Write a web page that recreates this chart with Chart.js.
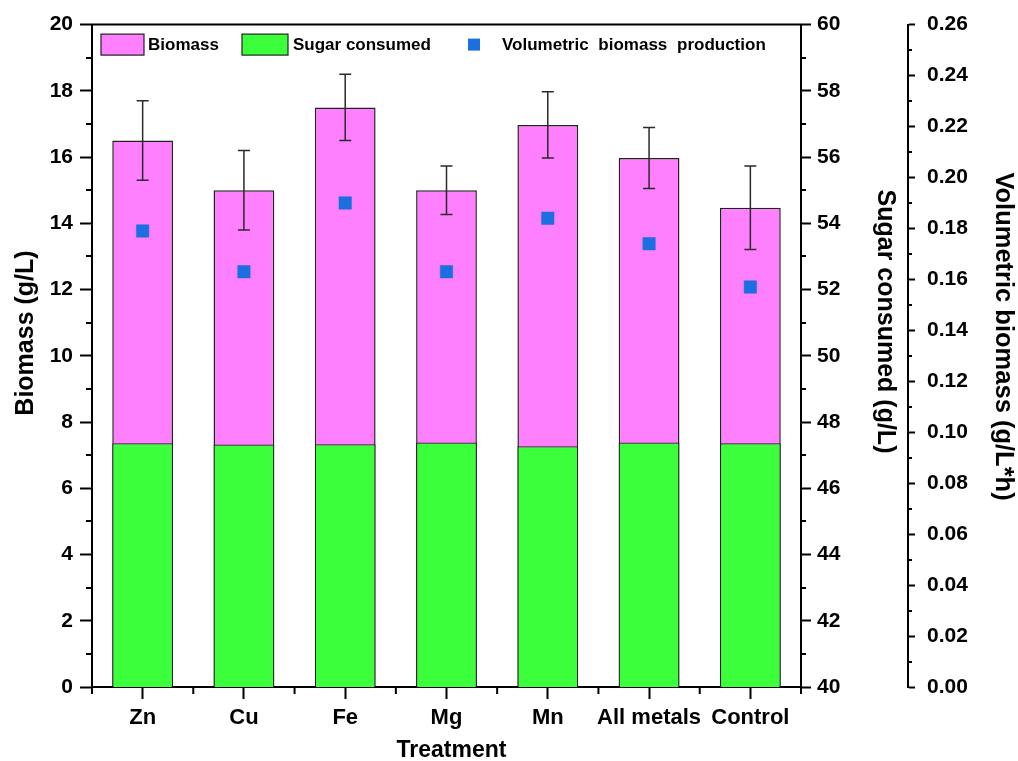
<!DOCTYPE html>
<html>
<head>
<meta charset="utf-8">
<script src="https://cdn.jsdelivr.net/npm/chart.js@4.4.1/dist/chart.umd.min.js"></script>
<style>
  html, body { margin: 0; padding: 0; background: #ffffff; }
  #chart { display: block; }
</style>
</head>
<body>
<canvas id="chart" width="1018" height="761"></canvas>
<script>
// Treatments on the category axis
const categories = ['Zn', 'Cu', 'Fe', 'Mg', 'Mn', 'All metals', 'Control'];

// Biomass (g/L) with standard deviation
const biomass = [16.5, 15.0, 17.5, 15.0, 16.97, 15.97, 14.47];
const biomassErr = [1.2, 1.2, 1.0, 0.73, 1.0, 0.92, 1.26];

// Sugar consumed (g/L)
const sugarConsumed = [47.36, 47.32, 47.33, 47.38, 47.27, 47.38, 47.36];

// Volumetric biomass production (g/L*h)
const volumetric = [0.179, 0.163, 0.190, 0.163, 0.184, 0.174, 0.157];

// Axis titles
const titleBiomass = 'Biomass (g/L)';
const titleSugar = 'Sugar consumed (g/L)';
const titleVolumetric = 'Volumetric biomass (g/L*h)';
const titleTreatment = 'Treatment';

const PINK = '#ff80ff';
const GREEN = '#3cff3c';
const BLUE = '#1c6fe0';
const FONT = '"Liberation Sans", Arial, Helvetica, sans-serif';

// Minor ticks, error bars, plot frame, legend and axis titles
const decorations = {
  id: 'decorations',
  afterDatasetsDraw(chart) {
    const ctx = chart.ctx;
    const sy = chart.scales.y;

    // error bars on the biomass bars
    const meta = chart.getDatasetMeta(2);
    ctx.save();
    ctx.strokeStyle = '#2a2a2a';
    ctx.lineWidth = 1.5;
    meta.data.forEach((bar, i) => {
      const x = bar.x;
      const yTop = sy.getPixelForValue(biomass[i] + biomassErr[i]);
      const yBot = sy.getPixelForValue(biomass[i] - biomassErr[i]);
      ctx.beginPath();
      ctx.moveTo(x, yTop); ctx.lineTo(x, yBot);
      ctx.moveTo(x - 6, yTop); ctx.lineTo(x + 6, yTop);
      ctx.moveTo(x - 6, yBot); ctx.lineTo(x + 6, yBot);
      ctx.stroke();
    });
    ctx.restore();
  },
  afterDraw(chart) {
    const ctx = chart.ctx;
    const area = chart.chartArea;
    const sx = chart.scales.x, sy = chart.scales.y, sy1 = chart.scales.y1, sy2 = chart.scales.y2;

    ctx.save();
    ctx.strokeStyle = '#000';
    ctx.lineWidth = 2;

    // top frame line
    ctx.beginPath();
    ctx.moveTo(area.left - 1, area.top);
    ctx.lineTo(area.right + 1, area.top);
    ctx.stroke();

    // minor ticks on the left axis
    ctx.beginPath();
    for (let v = 1; v < 20; v += 2) {
      const y = Math.round(sy.getPixelForValue(v));
      ctx.moveTo(sy.right, y); ctx.lineTo(sy.right - 6, y);
    }
    // minor ticks on the sugar axis
    for (let v = 41; v < 60; v += 2) {
      const y = Math.round(sy1.getPixelForValue(v));
      ctx.moveTo(sy1.left, y); ctx.lineTo(sy1.left + 5, y);
    }
    // minor ticks on the volumetric axis
    for (let k = 1; k < 26; k += 2) {
      const y = Math.round(sy2.getPixelForValue(k / 100));
      ctx.moveTo(sy2.left, y); ctx.lineTo(sy2.left + 4, y);
    }
    // minor ticks between categories on the x axis
    const n = categories.length;
    for (let i = 0; i <= n; i++) {
      let x;
      if (i === 0) x = area.left;
      else if (i === n) x = area.right;
      else x = (sx.getPixelForTick(i - 1) + sx.getPixelForTick(i)) / 2;
      ctx.moveTo(x, sx.top); ctx.lineTo(x, sx.top + 7);
    }
    ctx.stroke();
    ctx.restore();

    // legend inside the plot area
    const ds = chart.data.datasets;
    const legendY = area.top + 20;
    ctx.save();
    ctx.font = 'bold 17px ' + FONT;
    ctx.fillStyle = '#000';
    ctx.textBaseline = 'middle';
    ctx.textAlign = 'left';
    // biomass
    ctx.fillStyle = ds[2].backgroundColor;
    ctx.fillRect(area.left + 9, legendY - 10.5, 43, 21);
    ctx.strokeStyle = '#222'; ctx.lineWidth = 1.2;
    ctx.strokeRect(area.left + 9, legendY - 10.5, 43, 21);
    ctx.fillStyle = '#000';
    ctx.fillText(ds[2].label, area.left + 56, legendY + 1);
    // sugar consumed
    ctx.fillStyle = ds[1].backgroundColor;
    ctx.fillRect(area.left + 150, legendY - 10.5, 46, 21);
    ctx.strokeRect(area.left + 150, legendY - 10.5, 46, 21);
    ctx.fillStyle = '#000';
    ctx.fillText(ds[1].label, area.left + 201, legendY + 1);
    // volumetric marker
    ctx.fillStyle = ds[0].backgroundColor;
    ctx.fillRect(area.left + 376, legendY - 6, 12, 12);
    ctx.fillStyle = '#000';
    if ('wordSpacing' in ctx) ctx.wordSpacing = '5px';
    ctx.fillText(ds[0].label, area.left + 410, legendY + 1);
    ctx.restore();

    // axis titles
    ctx.save();
    ctx.fillStyle = '#000';
    ctx.textAlign = 'center';
    ctx.textBaseline = 'alphabetic';
    ctx.font = 'bold 25px ' + FONT;

    ctx.save();
    ctx.translate(32.5, 333);
    ctx.rotate(-Math.PI / 2);
    ctx.fillText(titleBiomass, 0, 0);
    ctx.restore();

    ctx.save();
    ctx.translate(878, 321.5);
    ctx.rotate(Math.PI / 2);
    ctx.fillText(titleSugar, 0, 0);
    ctx.restore();

    ctx.save();
    ctx.translate(996, 336.5);
    ctx.rotate(Math.PI / 2);
    ctx.font = 'bold 25.5px ' + FONT;
    ctx.fillText(titleVolumetric, 0, 0);
    ctx.restore();

    ctx.font = 'bold 23px ' + FONT;
    ctx.fillText(titleTreatment, 451.5, 757);
    ctx.restore();
  }
};

const tickFont = { family: FONT, size: 21, weight: 'bold' };
const axisGrid = (len) => ({
  display: true,
  drawOnChartArea: false,
  drawTicks: true,
  tickLength: len,
  tickWidth: 2,
  tickColor: '#000'
});
const axisBorder = { display: true, color: '#000', width: 2 };

new Chart(document.getElementById('chart'), {
  type: 'bar',
  data: {
    labels: categories,
    datasets: [
      {
        type: 'line',
        label: 'Volumetric biomass production',
        data: volumetric,
        yAxisID: 'y2',
        showLine: false,
        pointStyle: 'rect',
        pointRadius: 8.8,
        pointHoverRadius: 8.8,
        backgroundColor: BLUE,
        borderColor: BLUE,
        borderWidth: 0.5,
        order: 0
      },
      {
        label: 'Sugar consumed',
        data: sugarConsumed,
        yAxisID: 'y1',
        backgroundColor: GREEN,
        borderColor: '#222',
        borderWidth: 1.2,
        grouped: false,
        barPercentage: 0.6,
        categoryPercentage: 1,
        order: 1
      },
      {
        label: 'Biomass',
        data: biomass,
        yAxisID: 'y',
        backgroundColor: PINK,
        borderColor: '#222',
        borderWidth: 1.5,
        grouped: false,
        barPercentage: 0.6,
        categoryPercentage: 1,
        order: 2
      }
    ]
  },
  options: {
    responsive: false,
    animation: false,
    devicePixelRatio: 1,
    layout: { padding: { top: 23, left: 0, right: 0, bottom: 0 } },
    plugins: {
      legend: { display: false },
      tooltip: { enabled: false },
      title: { display: false }
    },
    scales: {
      x: {
        type: 'category',
        offset: true,
        grid: Object.assign(axisGrid(12), { offset: false }),
        border: axisBorder,
        ticks: {
          font: { family: FONT, size: 22, weight: 'bold' },
          color: '#000',
          padding: 6,
          maxRotation: 0,
          autoSkip: false
        },
        afterFit: (s) => { s.height = 74; }
      },
      y: {
        position: 'left',
        min: 0,
        max: 20,
        grid: axisGrid(12),
        border: axisBorder,
        ticks: { stepSize: 2, font: tickFont, color: '#000', padding: 7 },
        afterFit: (s) => { s.width = 92; }
      },
      y1: {
        position: 'right',
        weight: 0,
        min: 40,
        max: 60,
        grid: axisGrid(10),
        border: axisBorder,
        ticks: { stepSize: 2, font: tickFont, color: '#000', padding: 6 },
        afterFit: (s) => { s.width = 107; }
      },
      y2: {
        position: 'right',
        weight: 1,
        min: 0,
        max: 0.26,
        grid: axisGrid(7),
        border: axisBorder,
        ticks: {
          stepSize: 0.02,
          font: tickFont,
          color: '#000',
          padding: 12,
          callback: (v) => Number(v).toFixed(2)
        },
        afterFit: (s) => { s.width = 110; }
      }
    }
  },
  plugins: [decorations]
});
</script>
</body>
</html>
